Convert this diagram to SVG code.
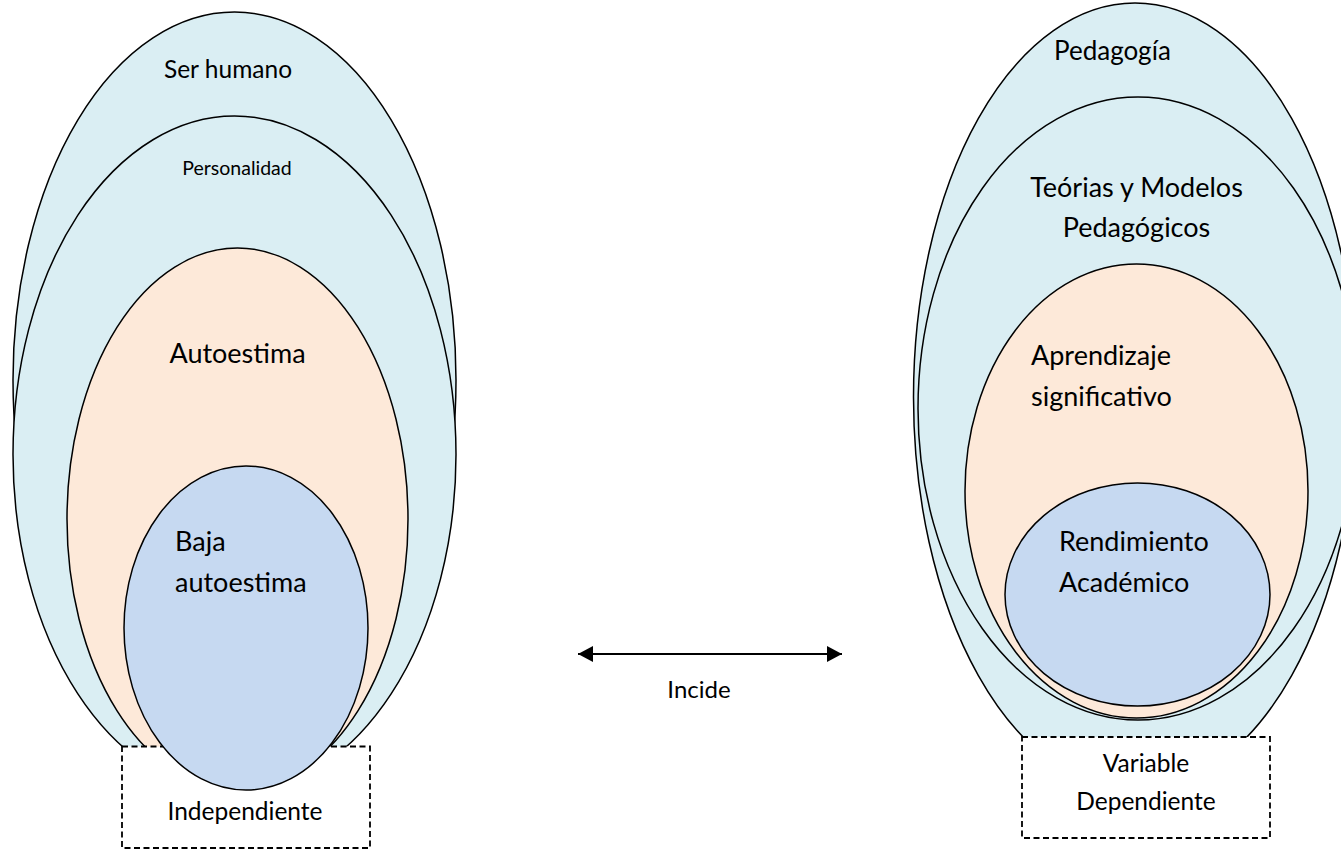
<svg xmlns="http://www.w3.org/2000/svg" width="1341" height="850" viewBox="0 0 1341 850">
<defs>
<style>
.lb{fill:#DAEEF3;stroke:#000;stroke-width:1.5}
.pe{fill:#FDE9D9;stroke:#000;stroke-width:1.5}
.bl{fill:#C6D9F1;stroke:#000;stroke-width:1.5}
.box{fill:#fff;stroke:#000;stroke-width:1.8;stroke-dasharray:6 3.5}
text{font-family:Lato,"Liberation Sans",sans-serif;fill:#000}
.m{text-anchor:middle}
.s{text-anchor:start}
</style>
<marker id="ah" viewBox="0 0 15 16" refX="15" refY="8" markerWidth="15" markerHeight="16" markerUnits="userSpaceOnUse" orient="auto-start-reverse">
<path d="M0,0 L15,8 L0,16 z" fill="#000"/>
</marker>
</defs>

<g id="ser-humano">
<ellipse class="lb" cx="234.5" cy="380" rx="221.5" ry="368"/>
<text class="m" x="228" y="78" font-size="24.5">Ser humano</text>
</g>
<g id="personalidad">
<ellipse class="lb" cx="234.5" cy="454.5" rx="221.5" ry="338.5"/>
<text class="m" x="237" y="175" font-size="19.5">Personalidad</text>
</g>
<g id="autoestima">
<ellipse class="pe" cx="237.5" cy="519" rx="170.5" ry="271"/>
<text class="m" x="237.5" y="363" font-size="27">Autoestima</text>
</g>
<g id="independiente">
<rect class="box" x="122" y="746.5" width="248" height="101.5"/>
<text class="m" x="245" y="820" font-size="24.5">Independiente</text>
</g>
<g id="baja-autoestima">
<ellipse class="bl" cx="246" cy="628" rx="122" ry="162"/>
<text class="s" x="175" y="551" font-size="27">Baja</text>
<text class="s" x="175" y="592" font-size="27">autoestima</text>
</g>

<g id="pedagogia">
<ellipse class="lb" cx="1135" cy="397" rx="221.5" ry="394"/>
<text class="s" x="1054" y="60" font-size="26">Pedagogía</text>
</g>
<g id="variable-dependiente">
<rect class="box" x="1022" y="737" width="248" height="101"/>
<text class="m" x="1146" y="772" font-size="24.5">Variable</text>
<text class="m" x="1146" y="810" font-size="24.5">Dependiente</text>
</g>
<g id="teorias-modelos">
<ellipse class="lb" cx="1138" cy="408.5" rx="220" ry="311.5"/>
<text class="m" x="1136.5" y="197" font-size="27">Teórias y Modelos</text>
<text class="m" x="1136.5" y="237" font-size="27">Pedagógicos</text>
</g>
<g id="aprendizaje">
<ellipse class="pe" cx="1136.5" cy="491" rx="171.5" ry="227"/>
<text class="s" x="1031" y="365" font-size="27">Aprendizaje</text>
<text class="s" x="1031" y="406" font-size="27">significativo</text>
</g>
<g id="rendimiento">
<ellipse class="bl" cx="1137.5" cy="594.5" rx="132.5" ry="111.5"/>
<text class="s" x="1059" y="551" font-size="27">Rendimiento</text>
<text class="s" x="1059" y="592" font-size="27">Académico</text>
</g>

<g id="connectors">
<line x1="578" y1="654" x2="842" y2="654" stroke="#000" stroke-width="2" marker-start="url(#ah)" marker-end="url(#ah)"/>
<text class="m" x="699" y="698" font-size="24">Incide</text>
</g>
</svg>
